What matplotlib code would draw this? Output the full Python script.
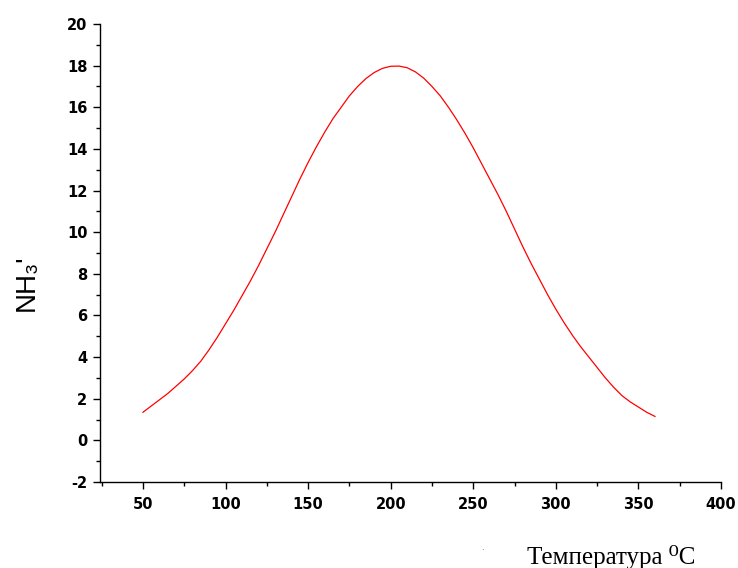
import matplotlib
matplotlib.use("Agg")
import matplotlib.pyplot as plt
from matplotlib.ticker import MultipleLocator

plt.rcParams["axes.unicode_minus"] = False

# temperature (deg C) and NH3 desorption signal
temperature = [50, 55, 60, 65, 70, 75, 80, 85, 90, 95, 100, 105, 110, 115, 120, 125,
               130, 135, 140, 145, 150, 155, 160, 165, 170, 175, 180, 185, 190, 195, 200, 205,
               210, 215, 220, 225, 230, 235, 240, 245, 250, 255, 260, 265, 270, 275, 280, 285,
               290, 295, 300, 305, 310, 315, 320, 325, 330, 335, 340, 345, 350, 355, 360]
nh3 = [1.35, 1.65, 1.95, 2.25, 2.6, 2.95, 3.35, 3.8, 4.35, 4.95, 5.6, 6.25, 6.95, 7.65, 8.4, 9.2,
       10.0, 10.85, 11.7, 12.55, 13.35, 14.1, 14.8, 15.45, 16.0, 16.55, 17.0, 17.38, 17.67, 17.87,
       17.97, 17.98, 17.9, 17.7, 17.4, 17.0, 16.55, 16.0, 15.4, 14.75, 14.05, 13.3, 12.55, 11.8,
       11.0, 10.15, 9.3, 8.5, 7.75, 7.0, 6.3, 5.65, 5.05, 4.5, 4.0, 3.5, 3.0, 2.55, 2.15, 1.85,
       1.6, 1.35, 1.15]

x_ticks = [50, 100, 150, 200, 250, 300, 350, 400]
y_ticks = [-2, 0, 2, 4, 6, 8, 10, 12, 14, 16, 18, 20]

fig = plt.figure(figsize=(7.38, 5.68), dpi=100)
ax = fig.add_axes([0.1355, 0.1514, 0.9770 - 0.1355, 0.9577 - 0.1514])

ax.plot(temperature, nh3, color="#ff0000", linewidth=0.9)

ax.set_xlim(24, 400)
ax.set_ylim(-2, 20)
ax.set_xticks(x_ticks)
ax.set_yticks(y_ticks)
ax.xaxis.set_minor_locator(MultipleLocator(25))
ax.yaxis.set_minor_locator(MultipleLocator(1))

for side in ["top", "right"]:
    ax.spines[side].set_visible(False)
for side in ["left", "bottom"]:
    ax.spines[side].set_linewidth(1.0)

ax.tick_params(which="major", direction="out", length=5, width=1.0, pad=4)
ax.tick_params(which="minor", direction="out", length=3, width=1.0)
ax.tick_params(axis="x", which="major", pad=6)
for lab in ax.get_xticklabels() + ax.get_yticklabels():
    lab.set_fontfamily("DejaVu Sans")
    lab.set_fontweight("bold")
    lab.set_fontsize(10.5)

fig.text(0.036, 0.503, "NH\u2083'", rotation=90, ha="center", va="center",
         fontsize=20, family=["Liberation Sans", "DejaVu Sans"])
fig.text(0.828, 0.007, "Температура \u2070C", ha="center", va="baseline",
         fontsize=18, family=["Liberation Serif", "DejaVu Serif"])
fig.text(0.654, 0.032, ".", ha="center", va="baseline", fontsize=6, color="#555555")

fig.savefig("out.png", dpi=100)
